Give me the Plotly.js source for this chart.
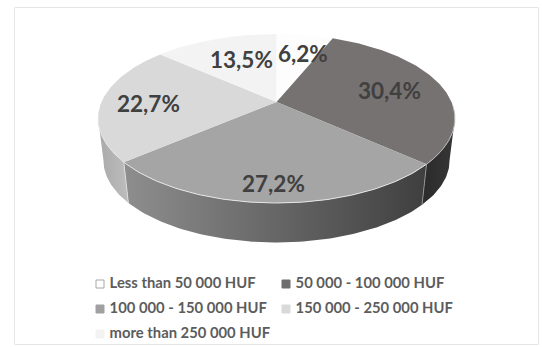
<!DOCTYPE html>
<html>
<head>
<meta charset="utf-8">
<script src="https://cdn.plot.ly/plotly-3.0.1.min.js"></script>
<style>html,body{margin:0;padding:0;background:#fff}#chart{width:542px;height:347px}</style>
</head>
<body>
<div id="chart"></div>
<script>
// Income bands and their shares of respondents, clockwise from twelve o'clock.
const categories = ["Less than 50 000 HUF", "50 000 - 100 000 HUF", "100 000 - 150 000 HUF", "150 000 - 250 000 HUF", "more than 250 000 HUF"];
const shares = [6.2, 30.4, 27.2, 22.7, 13.5];

const topColors = ["#fdfdfd", "#767271", "#a5a5a5", "#d9d9d9", "#f3f3f3"];
const swatchColors = ["#ffffff", "#6e6e6e", "#a0a0a0", "#d9d9d9", "#f3f3f3"];
// Left-to-right gradient on the rim of each slice; slices facing away have none.
const rimGradients = [null, ["#2b2b2b", "#363636"], ["#8e8e8e", "#3f3f3f"], ["#a9a9a9", "#bdbdbd"], null];

// Perspective disc: apex position, radii and foreshortening.
const apex = {x: 276.5, y: 102};
const radius = {x: 175, y: 81.3};
const tilt = 0.195;
const base = {scale: 0.97, drop: 42.5};
// Angles where the disc outline is widest, which bound the visible rim.
const silhouette = [101, 259];

function project(deg, r, floor) {
  const t = deg * Math.PI / 180;
  const u = r * Math.sin(t), v = r * Math.cos(t);
  const s = 1 / (1 + tilt * v) * (floor ? base.scale : 1);
  return [apex.x + radius.x * u * s, apex.y - radius.y * v * s + (floor ? base.drop : 0)];
}
function arc(a0, a1, floor) {
  const pts = [], n = Math.max(2, Math.ceil(Math.abs(a1 - a0)));
  for (let i = 0; i <= n; i++) pts.push(project(a0 + (a1 - a0) * i / n, 1, floor));
  return pts;
}
function poly(pts, extra) {
  return Object.assign({
    x: pts.map(p => p[0]), y: pts.map(p => p[1]),
    type: "scatter", mode: "lines", fill: "toself", hoverinfo: "skip", showlegend: false
  }, extra);
}

// Slice boundaries in degrees, from the shares.
const total = shares.reduce((a, b) => a + b, 0);
const bounds = [0];
shares.forEach(s => bounds.push(bounds[bounds.length - 1] + s / total * 360));

const traces = [];

// Rim walls first, so the top faces cover whatever lies behind them.
shares.forEach((s, i) => {
  const g = rimGradients[i];
  if (!g) return;
  const a0 = Math.max(bounds[i], silhouette[0]), a1 = Math.min(bounds[i + 1], silhouette[1]);
  const pts = arc(a0, a1, false).concat(arc(a1, a0, true));
  pts.push(pts[0]);
  traces.push(poly(pts, {
    line: {width: 0},
    fillcolor: g[0],
    fillgradient: {type: "horizontal", colorscale: [[0, g[0]], [1, g[1]]]}
  }));
});

// Light seams where the front slices meet on the rim.
[[2, "rgba(150,150,150,0.9)"], [3, "rgba(225,225,225,0.85)"]].forEach(([i, color]) => {
  const a = project(bounds[i], 1, false), b = project(bounds[i], 1, true);
  traces.push({x: [a[0], b[0]], y: [a[1], b[1]], type: "scatter", mode: "lines",
    line: {color: color, width: 1}, hoverinfo: "skip", showlegend: false});
});

// Top faces.
shares.forEach((s, i) => {
  const pts = [[apex.x, apex.y]].concat(arc(bounds[i], bounds[i + 1], false));
  pts.push([apex.x, apex.y]);
  traces.push(poly(pts, {fillcolor: topColors[i], line: {width: 0}}));
});

// Bright bevel along the front edge of the top face.
[[1, "rgba(190,190,190,0.9)"], [2, "rgba(235,235,235,0.9)"], [3, "rgba(235,235,235,0.5)"]].forEach(([i, color]) => {
  const a0 = Math.max(bounds[i], silhouette[0] - 8), a1 = Math.min(bounds[i + 1], silhouette[1]);
  const pts = arc(a0, a1, false);
  traces.push({x: pts.map(p => p[0]), y: pts.map(p => p[1]), type: "scatter", mode: "lines",
    line: {color: color, width: 1}, hoverinfo: "skip", showlegend: false});
});

// Value labels placed on the faces.
const labelAnchors = [[303, 53], [389, 90], [273, 183], [148, 103], [241.5, 59]];
const annotations = shares.map((s, i) => ({
  x: labelAnchors[i][0], y: labelAnchors[i][1], xref: "x", yref: "y", showarrow: false,
  text: s.toFixed(1).replace(".", ",") + "%",
  font: {family: "Lato", size: 22.5, color: "#404040", weight: 700},
  xanchor: "center", yanchor: "middle"
}));

// Key laid out in two columns under the pie.
const keyCols = [100, 286], keyRows = [284, 309, 334];
categories.forEach((c, i) => {
  traces.push({
    x: [keyCols[i % 2]], y: [keyRows[Math.floor(i / 2)]], name: c,
    type: "scatter", mode: "markers+text", text: [" " + c], textposition: "middle right",
    textfont: {family: "Lato", size: 14.8, color: "#5c5c5c", weight: 700},
    marker: {symbol: "square", size: 8, color: swatchColors[i], line: {color: i === 0 ? "#a6a6a6" : swatchColors[i], width: 1}},
    hoverinfo: "skip", showlegend: false, cliponaxis: false
  });
});

const layout = {
  width: 542, height: 347,
  margin: {l: 0, r: 0, t: 0, b: 0},
  paper_bgcolor: "#fff", plot_bgcolor: "#fff",
  showlegend: false,
  xaxis: {range: [0, 542], visible: false, fixedrange: true},
  yaxis: {range: [347, 0], visible: false, fixedrange: true},
  annotations: annotations,
  shapes: [{type: "rect", xref: "x", yref: "y", x0: 14.5, y0: 7.5, x1: 538.5, y1: 344.5,
    line: {color: "#e6e6e6", width: 1}, fillcolor: "rgba(0,0,0,0)", layer: "below"}]
};

Plotly.newPlot("chart", traces, layout, {staticPlot: true, displayModeBar: false});
</script>
</body>
</html>
